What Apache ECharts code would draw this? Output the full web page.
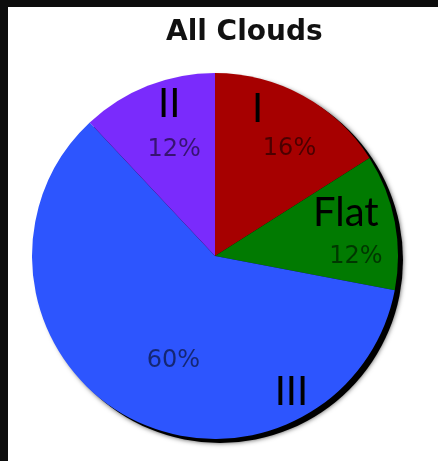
<!DOCTYPE html>
<html>
<head>
<meta charset="utf-8">
<script src="https://cdn.jsdelivr.net/npm/echarts@6/dist/echarts.min.js"></script>
<style>html,body{margin:0;padding:0;background:#fff;}#c{width:438px;height:461px;}</style>
</head>
<body>
<div id="c"></div>
<script>
const categories = ['I', 'Flat', 'III', 'II'];
const shares = [16, 12, 60, 12];
const sliceColors = ['#a60000', '#017a01', '#2d55fe', '#7a2bfc'];
const percentLabelOffsets = [[29, -24], [48, 18], [4, 22], [-6, -18]];
const nameLabelOffsets = [[-3, -64], [38, -25], [122, 53], [-11, -64]];

const chart = echarts.init(document.getElementById('c'), null, {renderer: 'canvas'});
const center = [215, 256];
const radius = 183;

const pctData = categories.map((c, i) => ({
  name: c, value: shares[i],
  itemStyle: {color: sliceColors[i]},
  label: {offset: percentLabelOffsets[i]}
}));
const nameData = categories.map((c, i) => ({
  name: c, value: shares[i],
  label: {offset: nameLabelOffsets[i]}
}));

chart.setOption({
  backgroundColor: '#ffffff',
  animation: false,
  title: {
    text: 'All Clouds', left: 166, top: 19, padding: 0,
    textStyle: {fontFamily: 'DejaVu Sans', fontWeight: 'bold', fontSize: 28, color: '#111'}
  },
  graphic: [
    {type: 'rect', left: 0, top: 0, shape: {width: 8, height: 461}, style: {fill: '#0d0d0d'}, z: 100},
    {type: 'rect', left: 0, top: 0, shape: {width: 438, height: 7}, style: {fill: '#0d0d0d'}, z: 100}
  ],
  series: [
    {
      type: 'pie', center: [center[0] + 5, center[1] + 4], radius: radius, silent: true,
      z: 1, label: {show: false}, labelLine: {show: false},
      itemStyle: {color: '#000', shadowBlur: 5, shadowColor: 'rgba(0,0,0,0.7)'},
      data: [{name: 'shadow', value: 1}]
    },
    {
      type: 'pie', center: center, radius: radius, startAngle: 90, clockwise: true,
      silent: true, z: 2, avoidLabelOverlap: false,
      label: {
        show: true, position: 'inside', formatter: '{d}%',
        fontFamily: 'DejaVu Sans', fontSize: 24, color: 'rgba(0,0,0,0.55)'
      },
      labelLine: {show: false},
      itemStyle: {borderWidth: 0},
      data: pctData
    },
    {
      type: 'pie', center: center, radius: radius, startAngle: 90, clockwise: true,
      silent: true, z: 3, avoidLabelOverlap: false,
      label: {
        show: true, position: 'inside', formatter: '{b}',
        fontFamily: 'Lato', fontSize: 40, color: '#000'
      },
      labelLine: {show: false},
      itemStyle: {color: 'rgba(0,0,0,0)', borderWidth: 0},
      data: nameData
    }
  ]
});
</script>
</body>
</html>
